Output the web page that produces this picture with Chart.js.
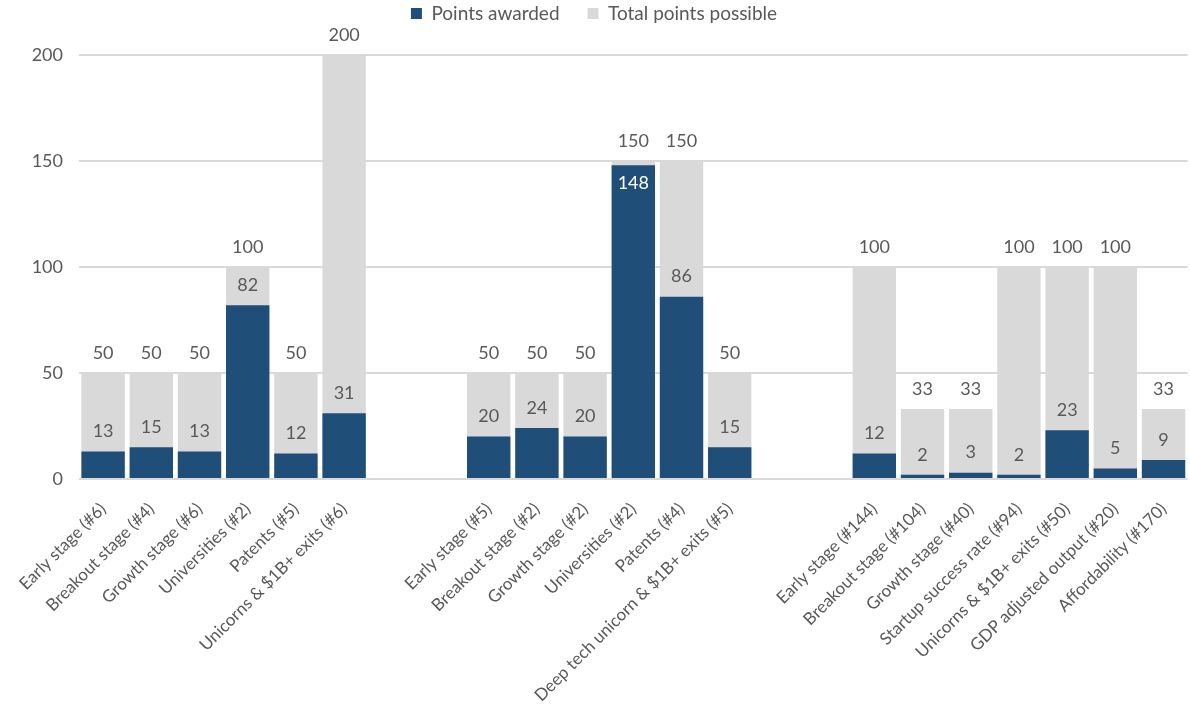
<!DOCTYPE html>
<html>
<head>
<meta charset="utf-8">
<script src="https://cdn.jsdelivr.net/npm/chart.js@4.4.0/dist/chart.umd.min.js"></script>
<style>
  html, body { margin: 0; padding: 0; background: #fff; }
  #wrap { width: 1190px; height: 711px; }
</style>
</head>
<body>
<div id="wrap"><canvas id="mycanvas" width="1190" height="711"></canvas></div>
<script>
// categories, '' = empty slot between the three groups
var labels = [
  "Early stage (#6)", "Breakout stage (#4)", "Growth stage (#6)", "Universities (#2)", "Patents (#5)", "Unicorns & $1B+ exits (#6)",
  "", "",
  "Early stage (#5)", "Breakout stage (#2)", "Growth stage (#2)", "Universities (#2)", "Patents (#4)", "Deep tech unicorn & $1B+ exits (#5)",
  "", "",
  "Early stage (#144)", "Breakout stage (#104)", "Growth stage (#40)", "Startup success rate (#94)", "Unicorns & $1B+ exits (#50)", "GDP adjusted output (#20)", "Affordability (#170)"
];

var awarded = [13, 15, 13, 82, 12, 31, null, null, 20, 24, 20, 148, 86, 15, null, null, 12, 2, 3, 2, 23, 5, 9];
var possible = [50, 50, 50, 100, 50, 200, null, null, 50, 50, 50, 150, 150, 50, null, null, 100, 33, 33, 100, 100, 100, 33];

var yTicks = [0, 50, 100, 150, 200];

var FONT = "Lato";
var TXT = "#595959";

var valueLabels = {
  id: "valueLabels",
  afterDatasetsDraw: function(chart) {
    var ctx = chart.ctx;
    var mA = chart.getDatasetMeta(0);
    var mP = chart.getDatasetMeta(1);
    ctx.save();
    ctx.font = "18px " + FONT;
    ctx.textAlign = "center";
    ctx.textBaseline = "middle";
    for (var i = 0; i < labels.length; i++) {
      if (possible[i] == null) continue;
      var pb = mP.data[i];
      var ab = mA.data[i];
      ctx.fillStyle = TXT;
      ctx.fillText(String(possible[i]), pb.x, pb.y - 20);
      var ly = ab.y - 20;
      if (ly < pb.y + 12) {
        ctx.fillStyle = "#ffffff";
        ctx.fillText(String(awarded[i]), ab.x, ab.y + 18);
      } else {
        ctx.fillStyle = TXT;
        ctx.fillText(String(awarded[i]), ab.x, ly);
      }
    }
    ctx.restore();
  }
};

var legendHeight = {
  id: "legendHeight",
  beforeInit: function(chart) {
    var fit = chart.legend.fit;
    chart.legend.fit = function() {
      fit.bind(chart.legend)();
      this.height = 79;
    };
  }
};

var chartdata = {
  labels: labels,
  datasets: [
    {
      label: "Points awarded",
      backgroundColor: "#1f4e79",
      data: awarded,
      grouped: false,
      barPercentage: 0.9,
      categoryPercentage: 1.0
    },
    {
      label: "Total points possible",
      backgroundColor: "#d9d9d9",
      data: possible,
      grouped: false,
      barPercentage: 0.9,
      categoryPercentage: 1.0
    }
  ]
};

var ctx = document.getElementById("mycanvas");

var BarGraph = new Chart(ctx, {
  type: "bar",
  data: chartdata,
  plugins: [valueLabels, legendHeight],
  options: {
    responsive: false,
    animation: false,
    layout: { padding: { left: 0, right: 2, top: -24, bottom: 0 } },
    plugins: {
      tooltip: { enabled: false },
      legend: {
        position: "top",
        labels: {
          boxWidth: 11,
          boxHeight: 11,
          padding: 28,
          color: TXT,
          font: { family: FONT, size: 19 }
        }
      }
    },
    scales: {
      x: {
        grid: { display: false },
        border: { display: false },
        ticks: {
          autoSkip: false,
          maxRotation: 45,
          minRotation: 45,
          padding: 12,
          color: TXT,
          font: { family: FONT, size: 17 }
        },
        afterFit: function(scale) { scale.height = 232; }
      },
      y: {
        min: 0,
        max: 200,
        afterBuildTicks: function(scale) {
          scale.ticks = yTicks.map(function(v) { return { value: v }; });
        },
        grid: { color: "#d9d9d9", lineWidth: 2, drawTicks: false },
        border: { display: false },
        ticks: {
          padding: 16,
          color: TXT,
          font: { family: FONT, size: 18 }
        },
        afterFit: function(scale) { scale.width = 79; }
      }
    }
  }
});
</script>
</body>
</html>
